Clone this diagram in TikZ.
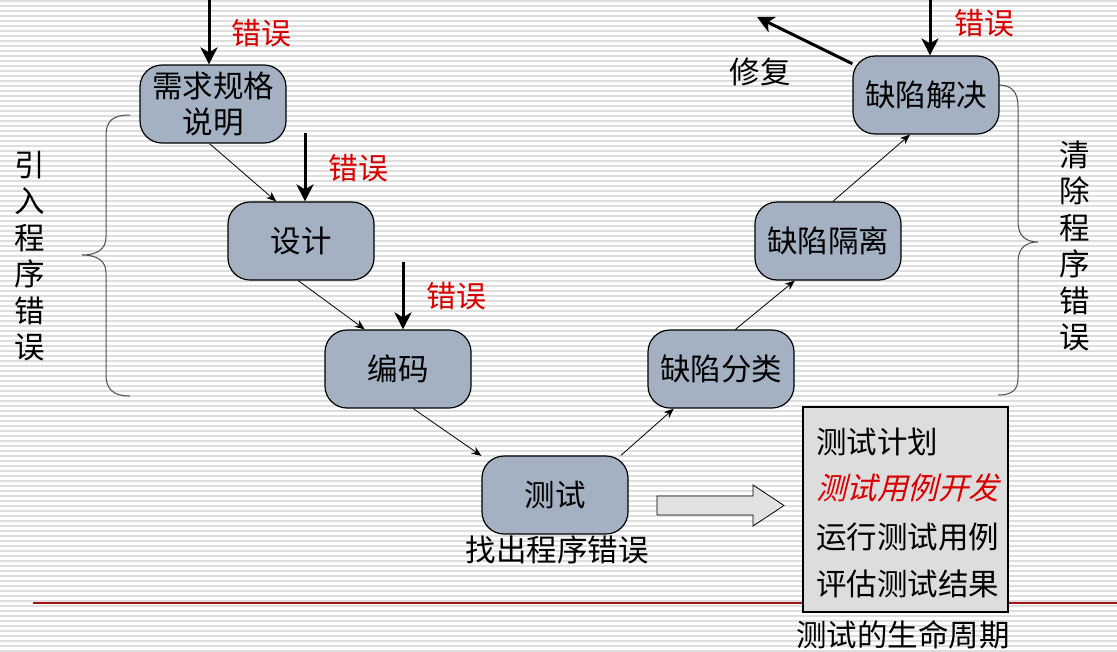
\documentclass[tikz,border=0pt]{standalone}
\usepackage{fontspec}
\newfontfamily\cjk{Noto Sans CJK SC}
\newfontfamily\cjkslant[FakeSlant=0.25]{Noto Sans CJK SC}
\usetikzlibrary{arrows.meta}

\definecolor{boxblue}{HTML}{A3B1C2}
\definecolor{errred}{HTML}{D80000}
\definecolor{stripe}{HTML}{DEDEDE}
\definecolor{rulered}{HTML}{A31515}
\definecolor{panelgray}{HTML}{DDDDDD}

\tikzset{
  phase/.style={draw, fill=boxblue, rounded corners=22pt, minimum width=146pt,
    minimum height=78pt, line width=1.2pt, align=center,
    font=\cjk\fontsize{30.5}{36}\selectfont},
  flow/.style={-{Stealth[length=10pt,width=8pt]}, line width=0.8pt},
  bug/.style={-{Stealth[length=17pt,width=17pt,inset=5pt]}, line width=3pt},
  errlabel/.style={text=errred, inner sep=0, font=\cjk\fontsize{30}{34}\selectfont},
  txt/.style={inner sep=0, font=\cjk\fontsize{30.5}{36}\selectfont},
  brace/.style={line width=1pt, draw=black!70},
}

\begin{document}
\begin{tikzpicture}[x=1pt,y=-1pt]

\useasboundingbox (0,0) rectangle (1117,651);
\fill [white] (0,0) rectangle (1117,651);
\foreach \y in {1,6,...,651}
  \draw [stripe, line width=1.2pt] (0,\y) -- (1117,\y);
\draw [rulered, line width=1.3pt] (33,603) -- (1117,603);

% braces
\draw [brace] (130,115) .. controls (113,115) and (106,121) .. (106,135) -- (106,237)
  .. controls (106,250) and (96,255) .. (82,255) .. controls (96,255) and (106,260) .. (106,273)
  -- (106,375) .. controls (106,389) and (113,396) .. (130,396);
\draw [brace] (998,85) .. controls (1012,85) and (1018,92) .. (1018,107) -- (1018,222)
  .. controls (1018,236) and (1026,242) .. (1038,242) .. controls (1026,242) and (1018,248) .. (1018,262)
  -- (1018,378) .. controls (1018,390) and (1012,395) .. (998,395);
\node [txt, align=center, font=\cjk\fontsize{30.5}{36.5}\selectfont] (intro) at (30,256) {引\\入\\程\\序\\错\\误};
\node [txt, align=center, font=\cjk\fontsize{30.5}{36.5}\selectfont] (remove) at (1075,246) {清\\除\\程\\序\\错\\误};

% phases
\node [phase] (req) at (213,104) {需求规格\\说明};
\node [phase] (design) at (301,241) {设计};
\node [phase] (coding) at (398,369) {编码};
\node [phase] (test) at (555,495) {测试};
\node [phase] (classify) at (721,369) {缺陷分类};
\node [phase] (isolate) at (828,241) {缺陷隔离};
\node [phase] (resolve) at (926,95) {缺陷解决};

\draw [flow] (req.265) -- (design.122);
\draw [flow] (design.266) -- (coding.130);
\draw [flow] (coding.291) -- (test.152);
\draw [flow] (test.31) -- (classify.220);
\draw [flow] (classify.70) -- (isolate.230);
\draw [flow] (isolate.83) -- (resolve.248);

% errors coming in
\coordinate (errA) at (209,-2);
\coordinate (errB) at (305,133);
\coordinate (errC) at (403,262);
\coordinate (errD) at (930,-2);
\coordinate (fixend) at (757,17);
\draw [bug] (errA) -- (errA |- req.north);
\draw [bug] (errB) -- (errB |- design.north);
\draw [bug] (errC) -- (errC |- coding.north);
\draw [bug] (errD) -- (errD |- resolve.north);
\draw [bug] (resolve.157) -- (fixend);
\node [errlabel] (errAlbl) at (261,33) {错误};
\node [errlabel] (errBlbl) at (358,168) {错误};
\node [errlabel] (errClbl) at (456,296) {错误};
\node [errlabel] (errDlbl) at (984,23) {错误};
\node [txt] (fix) at (760,72) {修复};

\node [txt] (find) at (557,550) {找出程序错误};

% life cycle panel
\draw [fill=panelgray!85, line width=0.8pt] (657,496) -- (753,496) -- (753,485) -- (784,505.5)
  -- (753,526) -- (753,515) -- (657,515) -- cycle;
\node [draw, fill=panelgray, line width=1.2pt, minimum width=205pt, minimum height=205pt,
  inner sep=0] (lifebox) at (905.5,509.5) {};
\node [txt, anchor=west] (plan) at (816,442) {测试计划};
\node [txt, anchor=west, text=errred, font=\cjkslant\fontsize{30.5}{36}\selectfont] (dev) at (816,488) {测试用例开发};
\node [txt, anchor=west] (run) at (816,537) {运行测试用例};
\node [txt, anchor=west] (eval) at (816,584) {评估测试结果};
\node [txt] (caption) at (903,635) {测试的生命周期};

\end{tikzpicture}
\end{document}
